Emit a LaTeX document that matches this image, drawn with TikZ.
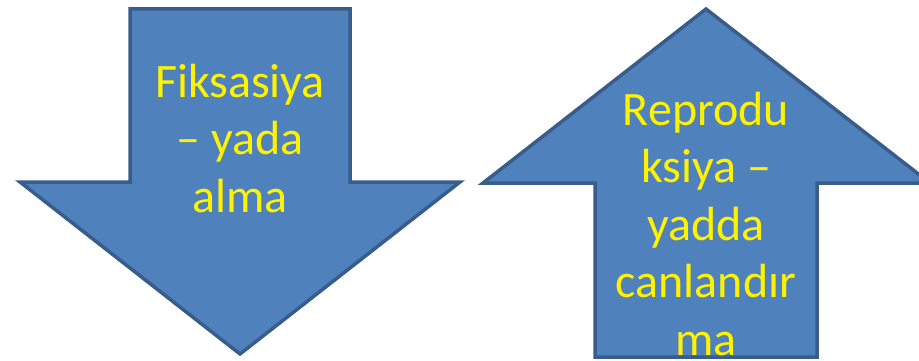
\documentclass[tikz,border=0pt]{standalone}
\usepackage{fontspec}
\setmainfont{Carlito}
\usepackage{tikz}

\definecolor{arrowfill}{HTML}{4F81BD}
\definecolor{arrowline}{HTML}{385D8A}

\begin{document}
\begin{tikzpicture}[x=1pt,y=-1pt,
	bigarrow/.style={fill=arrowfill,draw=arrowline,line width=3.5pt,line join=miter},
	label/.style={text=yellow,align=center,anchor=base,inner sep=0pt,font=\fontsize{48}{57.5}\selectfont}]
	\useasboundingbox (0,0) rectangle (919,361);
	\path[bigarrow] (130,9) -- (350,9) -- (350,182) -- (460,182) -- (240,354) -- (20,182) -- (130,182) -- cycle;
	\path[bigarrow] (706,9) -- (930,183) -- (817,183) -- (817,357) -- (595,357) -- (595,183) -- (483,183) -- cycle;
	\node[label] (fix) at (240, 212) {Fiksasiya\\– yada\\alma};
	\node[label] (rep) at (706, 355) {Reprodu\\ksiya –\\yadda\\canlandır\\ma};
\end{tikzpicture}
\end{document}
